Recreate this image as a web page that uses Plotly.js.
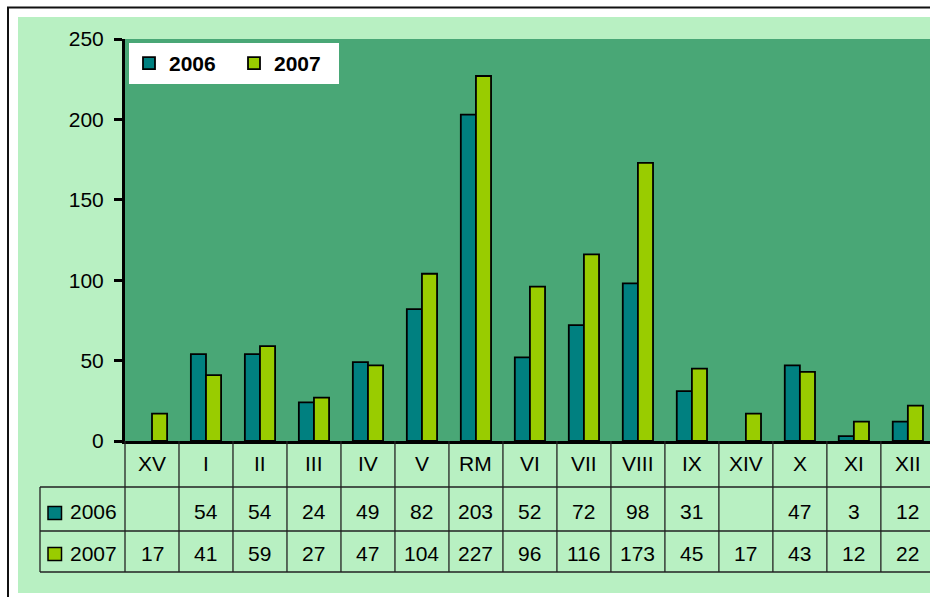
<!DOCTYPE html>
<html>
<head>
<meta charset="utf-8">
<script src="https://cdn.plot.ly/plotly-3.0.1.min.js"></script>
<style>
  html, body { margin: 0; padding: 0; background: #ffffff; }
  #chart { width: 930px; height: 597px; }
</style>
</head>
<body>
<div id="chart"></div>
<script>
// ---- data ----
const categories = ['XV','I','II','III','IV','V','RM','VI','VII','VIII','IX','XIV','X','XI','XII'];
const seriesNames = ['2006', '2007'];
const values2006 = [null, 54, 54, 24, 49, 82, 203, 52, 72, 98, 31, null, 47, 3, 12];
const values2007 = [17, 41, 59, 27, 47, 104, 227, 96, 116, 173, 45, 17, 43, 12, 22];
const yTicks = [0, 50, 100, 150, 200, 250];

// ---- styles ----
const FONT = '"Liberation Sans Narrow", "Arial Narrow", "Liberation Sans", Arial, sans-serif';
const FS = 21;
const C2006 = '#008080';
const C2007 = '#99cc00';
const PLOT_BG = '#49a776';
const OUTER_BG = '#b8f0c2';

const W = 930, H = 597;
const M = {l: 125, r: 0, t: 39, b: 156};
const PW = W - M.l - M.r, PH = H - M.t - M.b;
const xRange = [-0.5, 14.41];
const px = v => (v - M.l) / PW;
const py = v => (H - M.b - v) / PH;
const catPaper = d => (d - xRange[0]) / (xRange[1] - xRange[0]);

const shapes = [];
shapes.push({type:'rect', xref:'paper', yref:'paper', layer:'below',
  x0: px(18), x1: px(940), y0: py(593), y1: py(17), fillcolor: OUTER_BG, line:{width:0}});
shapes.push({type:'rect', xref:'paper', yref:'paper', layer:'below',
  x0: px(8), x1: px(950), y0: py(620), y1: py(7.5), fillcolor:'rgba(0,0,0,0)', line:{color:'#111', width:2}});
shapes.push({type:'rect', xref:'paper', yref:'paper', layer:'below',
  x0: 0, x1: 1, y0: 0, y1: 1, fillcolor: PLOT_BG, line:{width:0}});

const gridLine = {color:'#222', width:1.3};
[487, 531, 572].forEach(yy => {
  shapes.push({type:'line', xref:'paper', yref:'paper', x0: px(40), x1: px(940), y0: py(yy), y1: py(yy), line: gridLine});
});
shapes.push({type:'line', xref:'paper', yref:'paper', x0: px(40), x1: px(40), y0: py(487), y1: py(572), line: gridLine});
for (let i = 0; i <= categories.length; i++) {
  const xp = catPaper(i - 0.5);
  shapes.push({type:'line', xref:'paper', yref:'paper', x0: xp, x1: xp, y0: py(441), y1: py(572), line: gridLine});
}
const keyRows = [{y: 513, c: C2006}, {y: 554, c: C2007}];
keyRows.forEach(k => {
  shapes.push({type:'rect', xref:'paper', yref:'paper', x0: px(48), x1: px(61.5), y0: py(k.y + 6.5), y1: py(k.y - 6.5),
    fillcolor: k.c, line:{color:'#000', width:1.5}});
});

const annotations = [];
const rowY = {cat: 464, s2006: 511, s2007: 553};
const txtFont = {family:FONT, size:FS, color:'#000'};
categories.forEach((c, i) => {
  annotations.push({x: c, xref:'x', y: py(rowY.cat), yref:'paper', text: c, showarrow:false,
    xanchor:'center', yanchor:'middle', font: txtFont});
  if (values2006[i] !== null) {
    annotations.push({x: c, xref:'x', y: py(rowY.s2006), yref:'paper', text: String(values2006[i]), showarrow:false,
      xanchor:'center', yanchor:'middle', font: txtFont});
  }
  if (values2007[i] !== null) {
    annotations.push({x: c, xref:'x', y: py(rowY.s2007), yref:'paper', text: String(values2007[i]), showarrow:false,
      xanchor:'center', yanchor:'middle', font: txtFont});
  }
});
annotations.push({x: px(68), xref:'paper', y: py(rowY.s2006), yref:'paper', text: seriesNames[0], showarrow:false,
  xanchor:'left', yanchor:'middle', font: txtFont});
annotations.push({x: px(68), xref:'paper', y: py(rowY.s2007), yref:'paper', text: seriesNames[1], showarrow:false,
  xanchor:'left', yanchor:'middle', font: txtFont});

const traces = [
  {type:'bar', name: seriesNames[0], x: categories, y: values2006,
   marker:{color: C2006, line:{color:'#000', width:1.8}}, hoverinfo:'skip'},
  {type:'bar', name: seriesNames[1], x: categories, y: values2007,
   marker:{color: C2007, line:{color:'#000', width:1.8}}, hoverinfo:'skip'}
];

const layout = {
  width: W, height: H,
  margin: M,
  paper_bgcolor: '#ffffff',
  plot_bgcolor: 'rgba(0,0,0,0)',
  barmode: 'group',
  bargap: 0.44,
  bargroupgap: 0,
  font: {family: FONT, size: FS, color: '#000'},
  showlegend: true,
  legend: {
    orientation: 'h', x: px(129), y: py(43), xanchor: 'left', yanchor: 'top',
    bgcolor: '#ffffff', borderwidth: 0,
    font: {family: FONT, size: FS, color: '#000', weight: 'bold'},
    entrywidth: 60, itemwidth: 30, traceorder: 'normal'
  },
  xaxis: {
    type: 'category', range: xRange, showticklabels: false, ticks: '',
    showline: true, linecolor: '#000', linewidth: 3, showgrid: false, zeroline: false, fixedrange: true
  },
  yaxis: {
    range: [0, 250], tickvals: yTicks, ticktext: yTicks.map(String),
    ticks: 'outside', ticklen: 8, tickwidth: 3, tickcolor: '#000',
    showline: true, linecolor: '#000', linewidth: 3, showgrid: false, zeroline: false,
    tickfont: {family: FONT, size: FS, color: '#000'}, ticklabelstandoff: 6, fixedrange: true
  },
  shapes: shapes,
  annotations: annotations
};

Plotly.newPlot('chart', traces, layout, {displayModeBar: false, staticPlot: true});
</script>
</body>
</html>
